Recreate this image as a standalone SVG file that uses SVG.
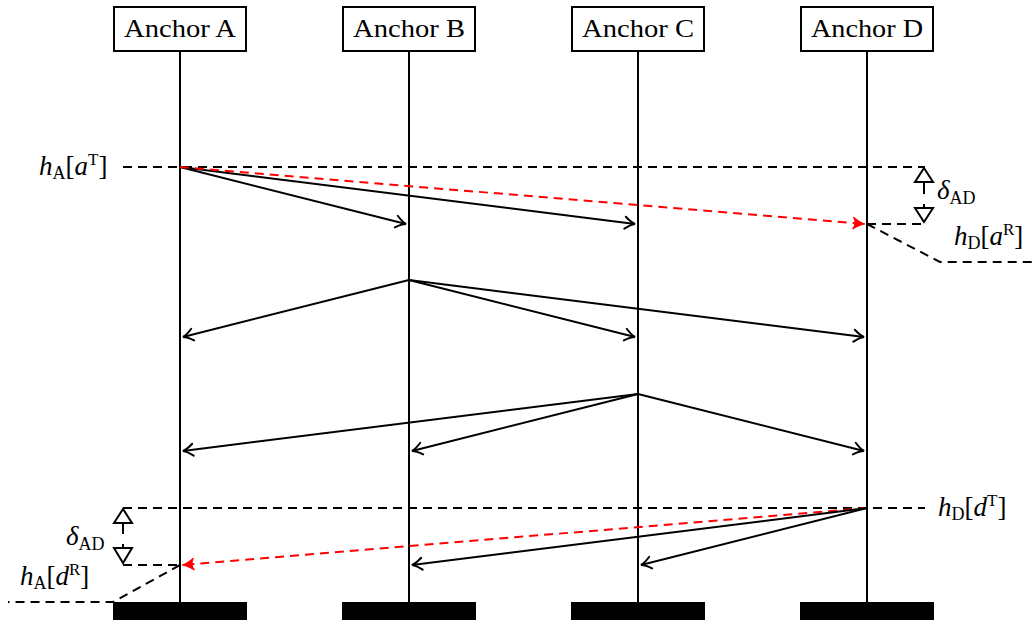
<svg xmlns="http://www.w3.org/2000/svg" width="1033" height="624" viewBox="0 0 1033 624">
<defs>
<style>
.box{fill:#fff;stroke:#000;stroke-width:2}
.life{stroke:#000;stroke-width:2}
.bar{fill:#000}
.msg{stroke:#000;stroke-width:2;fill:none;marker-end:url(#to)}
.red{stroke:#f00;stroke-width:2;fill:none;stroke-dasharray:9 6;marker-end:url(#tored)}
.dash{stroke:#000;stroke-width:2;fill:none;stroke-dasharray:9 6}
.tri{fill:#fff;stroke:#000;stroke-width:2;stroke-linejoin:miter}
.stem{stroke:#000;stroke-width:2}
.lbl{font-family:"Liberation Serif","DejaVu Serif",serif;fill:#000}
.t{font-family:"Liberation Serif","DejaVu Serif",serif;font-size:25px;fill:#000;text-anchor:middle}
.i{font-style:italic}
</style>
<marker id="to" markerUnits="userSpaceOnUse" markerWidth="16" markerHeight="16" viewBox="-12 -8 14 16" refX="0" refY="0" orient="auto">
<path d="M-10,-6 Q-4,-1 0,0 Q-4,1 -10,6" fill="none" stroke="#000" stroke-width="2" stroke-linecap="round"/>
</marker>
<marker id="tored" markerUnits="userSpaceOnUse" markerWidth="16" markerHeight="16" viewBox="-12 -8 14 16" refX="0" refY="0" orient="auto">
<path d="M-12,-6 Q-5,-1 0,0 Q-5,1 -12,6 Q-8,0 -12,-6 Z" fill="#f00" stroke="#f00" stroke-width="1"/>
</marker>
</defs>

<g id="anchorA">
<line class="life" x1="180" y1="51" x2="180" y2="603"/>
<rect class="box" x="114" y="7" width="132" height="44"/>
<text class="t" x="180" y="37" textLength="112" lengthAdjust="spacingAndGlyphs">Anchor A</text>
<rect class="bar" x="113" y="602" width="134" height="18"/>
</g>
<g id="anchorB">
<line class="life" x1="409" y1="51" x2="409" y2="603"/>
<rect class="box" x="343" y="7" width="132" height="44"/>
<text class="t" x="409" y="37" textLength="112" lengthAdjust="spacingAndGlyphs">Anchor B</text>
<rect class="bar" x="342" y="602" width="134" height="18"/>
</g>
<g id="anchorC">
<line class="life" x1="638" y1="51" x2="638" y2="603"/>
<rect class="box" x="572" y="7" width="132" height="44"/>
<text class="t" x="638" y="37" textLength="112" lengthAdjust="spacingAndGlyphs">Anchor C</text>
<rect class="bar" x="571" y="602" width="134" height="18"/>
</g>
<g id="anchorD">
<line class="life" x1="867" y1="51" x2="867" y2="603"/>
<rect class="box" x="801" y="7" width="132" height="44"/>
<text class="t" x="867" y="37" textLength="112" lengthAdjust="spacingAndGlyphs">Anchor D</text>
<rect class="bar" x="800" y="602" width="134" height="18"/>
</g>

<g id="guides">
<line class="dash" x1="123" y1="167" x2="925" y2="167"/>
<line class="dash" x1="867" y1="224" x2="925" y2="224"/>
<polyline class="dash" points="867,224 940,262 1033,262"/>
<line class="dash" x1="123" y1="508" x2="925" y2="508"/>
<line class="dash" x1="123" y1="565" x2="180" y2="565"/>
<polyline class="dash" points="180,565 113,602 8,602"/>
</g>

<g id="deltaRight">
<line class="stem" x1="924" y1="182" x2="924" y2="194"/>
<line class="stem" x1="924" y1="204" x2="924" y2="208"/>
<polygon class="tri" points="924,168 915,182 933,182"/>
<polygon class="tri" points="924,222 915,208 933,208"/>
</g>
<g id="deltaLeft">
<line class="stem" x1="123" y1="523" x2="123" y2="534"/>
<line class="stem" x1="123" y1="544" x2="123" y2="548"/>
<polygon class="tri" points="123,509 114,523 132,523"/>
<polygon class="tri" points="123,563 114,548 132,548"/>
</g>

<g id="connectors">
<line class="msg" x1="180" y1="167" x2="406" y2="224"/>
<line class="msg" x1="180" y1="167" x2="635" y2="224"/>
<line class="red" x1="180" y1="167" x2="865" y2="224"/>
<line class="msg" x1="409" y1="280" x2="183" y2="337"/>
<line class="msg" x1="409" y1="280" x2="635" y2="337"/>
<line class="msg" x1="409" y1="280" x2="864" y2="337"/>
<line class="msg" x1="638" y1="394" x2="183" y2="451"/>
<line class="msg" x1="638" y1="394" x2="412" y2="451"/>
<line class="msg" x1="638" y1="394" x2="864" y2="451"/>
<line class="red" x1="867" y1="508" x2="182" y2="565"/>
<line class="msg" x1="867" y1="508" x2="412" y2="565"/>
<line class="msg" x1="867" y1="508" x2="641" y2="565"/>
</g>

<g id="labels">
<text class="lbl" x="39" y="175" font-size="27"><tspan class="i">h</tspan><tspan font-size="18" dy="4">A</tspan><tspan dy="-4">[</tspan><tspan class="i">a</tspan><tspan font-size="17" dy="-10">T</tspan><tspan dy="10">]</tspan></text>
<text class="lbl" x="937" y="199" font-size="27"><tspan class="i">δ</tspan><tspan font-size="18" dy="5">AD</tspan></text>
<text class="lbl" x="954" y="245" font-size="27"><tspan class="i">h</tspan><tspan font-size="18" dy="4">D</tspan><tspan dy="-4">[</tspan><tspan class="i">a</tspan><tspan font-size="17" dy="-10">R</tspan><tspan dy="10">]</tspan></text>
<text class="lbl" x="938" y="516" font-size="27"><tspan class="i">h</tspan><tspan font-size="18" dy="4">D</tspan><tspan dy="-4">[</tspan><tspan class="i">d</tspan><tspan font-size="17" dy="-10">T</tspan><tspan dy="10">]</tspan></text>
<text class="lbl" x="66" y="545" font-size="27"><tspan class="i">δ</tspan><tspan font-size="18" dy="5">AD</tspan></text>
<text class="lbl" x="20" y="585" font-size="27"><tspan class="i">h</tspan><tspan font-size="18" dy="4">A</tspan><tspan dy="-4">[</tspan><tspan class="i">d</tspan><tspan font-size="17" dy="-10">R</tspan><tspan dy="10">]</tspan></text>
</g>
</svg>
